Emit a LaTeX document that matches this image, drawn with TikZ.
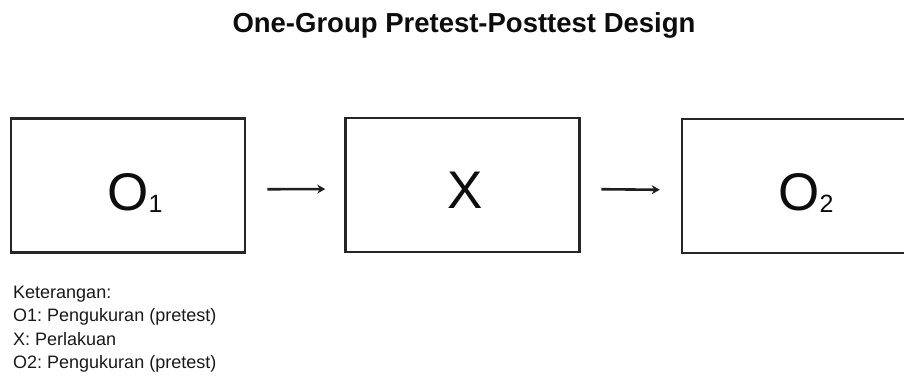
\documentclass[tikz,border=0pt]{standalone}
\usepackage{fontspec}
\setmainfont{Liberation Sans}
\usetikzlibrary{arrows.meta}
\begin{document}
\frenchspacing
\begin{tikzpicture}[x=1pt,y=-1pt,
  stage/.style={draw=black!85, line width=2.5pt, minimum width=234pt, minimum height=134pt, inner sep=0pt},
  glyph/.style={font=\fontsize{53}{53}\selectfont, text=black!95, inner sep=0pt, anchor=base},
  flow/.style={draw=black!88, line width=2.6pt, -{Stealth[length=8pt,width=9pt]}},
  note/.style={font=\fontsize{18}{18}\selectfont, anchor=base west, inner sep=0pt, text=black!90}]
\useasboundingbox (0,0) rectangle (904,378);
\fill[white] (0,0) rectangle (904,378);
% heading
\node[anchor=base, font=\bfseries\fontsize{27.5}{28}\selectfont, inner sep=0pt, text=black!95] (title) at (464,32) {One-Group Pretest-Posttest Design};
% the three stages
\node[stage] (o1) at (128.2,185.3) {};
\node[stage] (x) at (462.5,185) {};
\node[stage] (o2) at (799,186) {};
\node[glyph] (o1t) at (135,210) {O\raisebox{-2pt}{\fontsize{25}{25}\selectfont 1}};
\node[glyph] (xt) at (465.5,208) {X};
\node[glyph] (o2t) at (806,210) {O\raisebox{-2pt}{\fontsize{25}{25}\selectfont 2}};
% flow between stages
\draw[flow, shorten <=21pt, shorten >=19pt] ([yshift=-4pt]o1.east) -- ([yshift=-4pt]x.west);
\draw[flow, shorten <=20.7pt, shorten >=21pt] ([yshift=-4pt]x.east) -- ([yshift=-4pt]o2.west);
% legend
\node[note] (k0) at (13,298.3) {Keterangan:};
\node[note] (k1) at (13,321.7) {O1: Pengukuran (pretest)};
\node[note] (k2) at (13,345) {X: Perlakuan};
\node[note] (k3) at (13,368) {O2: Pengukuran (pretest)};
\end{tikzpicture}
\end{document}
